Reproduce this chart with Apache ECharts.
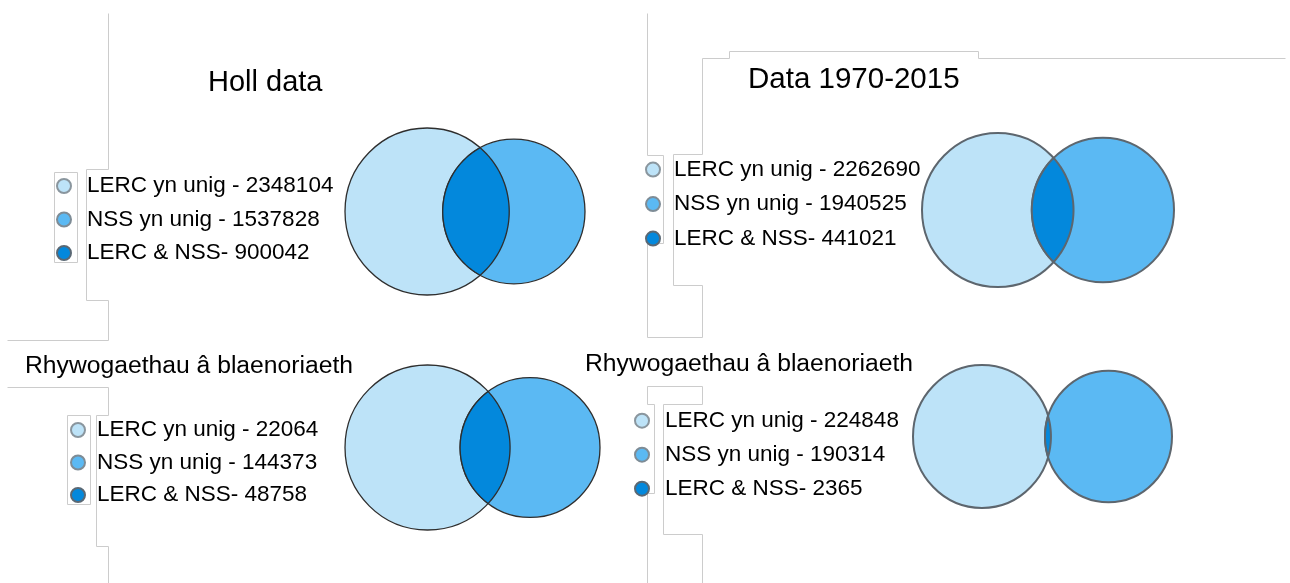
<!DOCTYPE html>
<html><head><meta charset="utf-8">
<script src="https://cdn.jsdelivr.net/npm/echarts@6/dist/echarts.min.js"></script>
<style>html,body{margin:0;padding:0;background:#fff}#c{width:1290px;height:583px}</style>
</head><body><div id="c"></div>
<script>
// ---------------- data ----------------
const panelTitles = ['Holl data', 'Data 1970-2015', 'Rhywogaethau â blaenoriaeth', 'Rhywogaethau â blaenoriaeth'];
const lercOnly = [2348104, 2262690, 22064, 224848];      // as printed in the legends
const nssOnly  = [1537828, 1940525, 144373, 190314];
const both     = [900042, 441021, 48758, 2365];
// panel 3's circle is drawn as ~220064 (its legend prints 22064)
const lercOnlyDrawn = [2348104, 2262690, 220064, 224848];
const legendPrefixes = ['LERC yn unig - ', 'NSS yn unig - ', 'LERC & NSS- '];

// ---------------- layout / style ----------------
const vennBox = [
  {left: 345, top: 128, width: 240, height: 167},
  {left: 922, top: 133, width: 252, height: 154},
  {left: 345, top: 365, width: 255, height: 165},
  {left: 913, top: 365, width: 259, height: 143}
];
const legendLayout = [
  {mx: 64,  tx: 87,  y0: 184,   pitch: 33.5},
  {mx: 653, tx: 674, y0: 167.6, pitch: 34.5},
  {mx: 78,  tx: 97,  y0: 428,   pitch: 32.5},
  {mx: 642, tx: 665, y0: 418.7, pitch: 34}
];
const titleLayout = [
  {x: 208, y: 82.5, size: 29},
  {x: 748, y: 80,   size: 29.5},
  {x: 25,  y: 366,  size: 24.7},
  {x: 585, y: 364,  size: 24.7}
];
const fills = ['#BDE3F8', '#5BB9F3', '#0388DC'];
const markerBorders = ['#8a969e', '#7e8c96', '#5a6874'];
const strokeStyle = [
  {stroke: '#2e2e2e', w: 1.3}, {stroke: '#5d666e', w: 2},
  {stroke: '#2e2e2e', w: 1.3}, {stroke: '#5d666e', w: 2}
];
const frameLines = [
  [[108,13],[108,169],[86,169],[86,300],[108,300],[108,340],[7,340]],
  [[7,387],[108,387],[108,415],[96,415],[96,546],[108,546],[108,583]],
  [[54,172],[77,172],[77,262],[54,262],[54,172]],
  [[67,415],[90,415],[90,504],[67,504],[67,415]],
  [[647,13],[647,155],[663,155],[663,243],[647,243],[647,337],[702,337],[702,285],[673,285],[673,154],[702,154],[702,58],[729,58],[729,51],[978,51],[978,58],[1285,58]],
  [[647,583],[647,493],[654,493],[654,404],[647,404],[647,386],[702,386],[702,404],[663,404],[663,534],[702,534],[702,583]]
];

// ---------------- geometry from the data (area-proportional Venn) ----------------
function lensArea(r1, r2, d) {
  if (d >= r1 + r2) return 0;
  if (d <= Math.abs(r1 - r2)) return Math.PI * Math.min(r1, r2) ** 2;
  const a = r1 * r1 * Math.acos((d * d + r1 * r1 - r2 * r2) / (2 * d * r1));
  const b = r2 * r2 * Math.acos((d * d + r2 * r2 - r1 * r1) / (2 * d * r2));
  const c = 0.5 * Math.sqrt((-d + r1 + r2) * (d + r1 - r2) * (d - r1 + r2) * (d + r1 + r2));
  return a + b - c;
}
function solveD(r1, r2, area) {
  let lo = Math.abs(r1 - r2), hi = r1 + r2;
  for (let k = 0; k < 100; k++) {
    const mid = (lo + hi) / 2;
    if (lensArea(r1, r2, mid) > area) lo = mid; else hi = mid;
  }
  return (lo + hi) / 2;
}
const geo = panelTitles.map((_, i) => {
  const A = lercOnlyDrawn[i] + both[i], B = nssOnly[i] + both[i];
  const r1 = Math.sqrt(A / Math.PI), r2 = Math.sqrt(B / Math.PI);
  return {r1, r2, d: solveD(r1, r2, both[i])};
});
const legendNames = panelTitles.map((_, i) => [
  legendPrefixes[0] + lercOnly[i], legendPrefixes[1] + nssOnly[i], legendPrefixes[2] + both[i]
]);

// ---------------- series ----------------
function circleRender(i) {
  return function (params, api) {
    const c = api.coord([api.value(0), api.value(1)]);
    const s = api.size([api.value(2), api.value(2)]);
    return {type: 'ellipse', shape: {cx: c[0], cy: c[1], rx: s[0], ry: s[1]},
      style: {fill: api.visual('color'), stroke: strokeStyle[i].stroke, lineWidth: strokeStyle[i].w}};
  };
}
function lensRender(i) {
  return function (params, api) {
    const r1 = api.value(2), r2 = api.value(3), d = api.value(4);
    const xi = (d * d + r1 * r1 - r2 * r2) / (2 * d);
    const yi = Math.sqrt(Math.max(0, r1 * r1 - xi * xi));
    const tA = Math.atan2(yi, xi), tB = Math.atan2(yi, d - xi);
    const pts = [], N = 80;
    for (let k = 0; k <= N; k++) {
      const t = tA - 2 * tA * k / N;
      pts.push(api.coord([r1 * Math.cos(t), r1 * Math.sin(t)]));
    }
    for (let k = 0; k <= N; k++) {
      const t = Math.PI + tB - 2 * tB * k / N;
      pts.push(api.coord([d + r2 * Math.cos(t), r2 * Math.sin(t)]));
    }
    return {type: 'polygon', shape: {points: pts},
      style: {fill: api.visual('color'), stroke: strokeStyle[i].stroke, lineWidth: strokeStyle[i].w}};
  };
}

const grids = [], xAxes = [], yAxes = [], series = [], legends = [], graphics = [];
geo.forEach((g, i) => {
  grids.push(Object.assign({}, vennBox[i]));
  const R = Math.max(g.r1, g.r2);
  xAxes.push({type: 'value', gridIndex: i, min: -g.r1, max: g.d + g.r2, show: false});
  yAxes.push({type: 'value', gridIndex: i, min: -R, max: R, show: false});
  series.push({type: 'custom', name: legendNames[i][0], xAxisIndex: i, yAxisIndex: i,
    itemStyle: {color: fills[0]}, renderItem: circleRender(i), data: [[0, 0, g.r1]]});
  series.push({type: 'custom', name: legendNames[i][1], xAxisIndex: i, yAxisIndex: i,
    itemStyle: {color: fills[1]}, renderItem: circleRender(i), data: [[g.d, 0, g.r2]]});
  series.push({type: 'custom', name: legendNames[i][2], xAxisIndex: i, yAxisIndex: i,
    itemStyle: {color: fills[2]}, renderItem: lensRender(i), data: [[0, 0, g.r1, g.r2, g.d]]});
  const L = legendLayout[i], lh = 23, iw = 2 * (L.tx - L.mx - 5);
  legends.push({
    orient: 'vertical', left: L.mx - 8, top: L.y0 - lh / 2 + 2, padding: 0,
    itemWidth: iw, itemHeight: 14, itemGap: L.pitch - lh, icon: 'circle', selectedMode: false,
    data: legendNames[i].map((n, k) => ({name: n, itemStyle: {color: fills[k], borderColor: markerBorders[k], borderWidth: 2}})),
    textStyle: {fontSize: 22.5, fontFamily: 'Liberation Sans, Arial, sans-serif', color: '#000', lineHeight: lh}
  });
  const T = titleLayout[i];
  graphics.push({type: 'text', x: T.x, y: T.y, silent: true,
    style: {text: panelTitles[i], fontSize: T.size, fontFamily: 'Liberation Sans, Arial, sans-serif',
      fill: '#000', align: 'left', verticalAlign: 'middle'}});
});
frameLines.forEach(pl => graphics.push({type: 'polyline', silent: true, z: -1,
  shape: {points: pl.map(p => [p[0] + 0.5, p[1] + 0.5])},
  style: {stroke: '#cccccc', lineWidth: 1, fill: null}}));

const chart = echarts.init(document.getElementById('c'), null, {renderer: 'canvas'});
chart.setOption({
  animation: false,
  backgroundColor: '#fff',
  grid: grids, xAxis: xAxes, yAxis: yAxes,
  legend: legends, series: series, graphic: graphics
});
</script></body></html>
